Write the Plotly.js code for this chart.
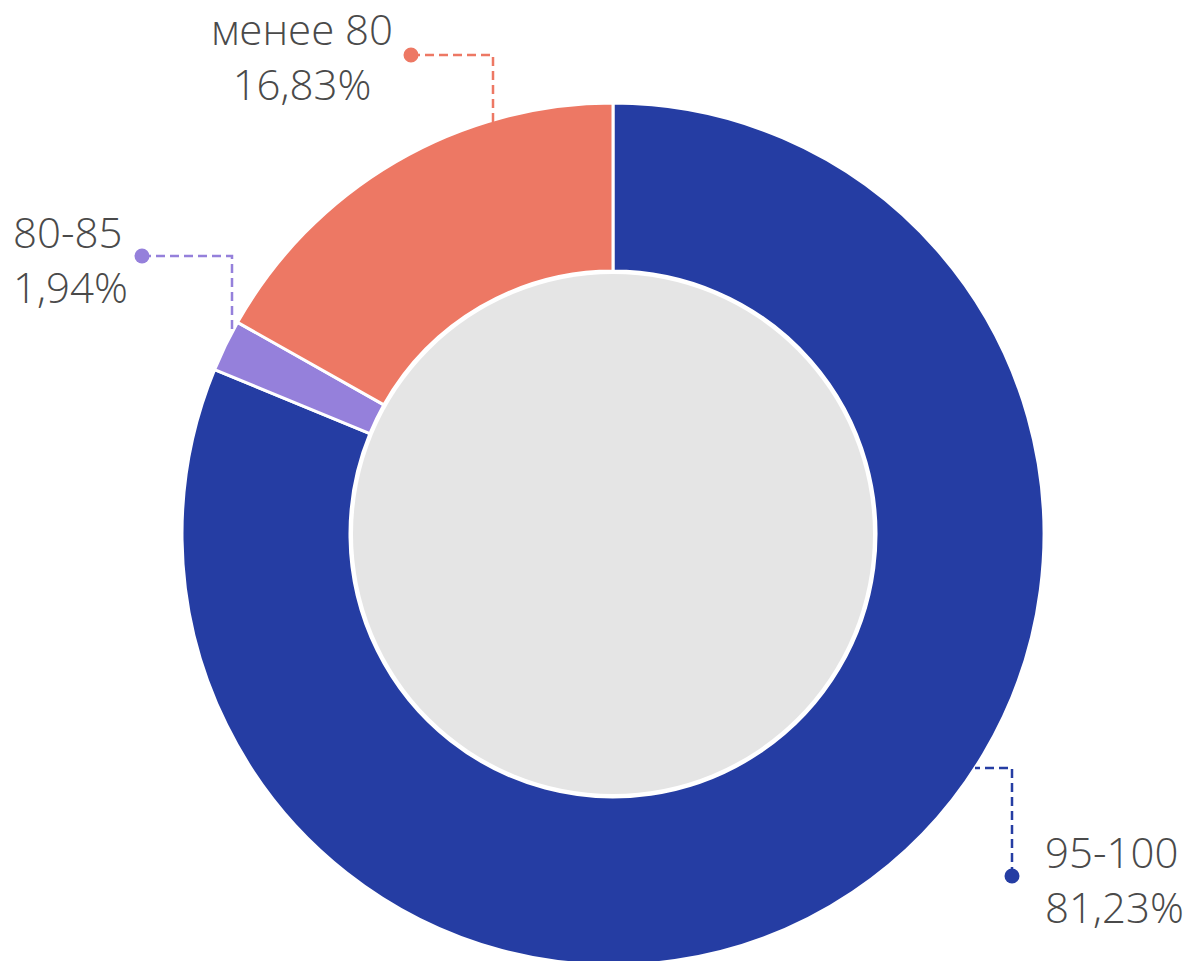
<!DOCTYPE html>
<html>
<head>
<meta charset="utf-8">
<script src="https://cdn.plot.ly/plotly-3.0.1.min.js"></script>
<style>
html,body{margin:0;padding:0;background:#fff;overflow:hidden;}
#chart{width:1186px;height:1000px;}
</style>
</head>
<body>
<div id="chart"></div>
<script>
// ---- data ----
const categories = ['95-100', '80-85', 'менее 80'];
const values = [81.23, 1.94, 16.83];
const percentLabels = ['81,23%', '1,94%', '16,83%'];
const sliceColors = ['#253da3', '#9580db', '#ed7864'];

// ---- layout helpers (pixels -> paper) ----
const W = 1186, H = 1000;
const px = x => x / W;
const py = y => 1 - y / H;

const cx = 613, cy = 534, R = 431;
const holeR = 263, innerR = 260;

// label placement (layout, not data)
const labelPos = [
  {x: 1043, y: 879, xanchor: 'left', align: 'left',
   dot: [1012, 876], path: [[1012, 876], [1012, 768], [975, 768]]},
  {x: 11, y: 259, xanchor: 'left', align: 'left',
   dot: [142, 256], path: [[142, 256], [232, 256], [232, 330]]},
  {x: 302, y: 56, xanchor: 'center', align: 'center',
   dot: [411, 55], path: [[411, 55], [493, 55], [493, 122]]}
];

const textColor = '#4a4a4a';
const fontFam = '"Open Sans", Roboto, sans-serif';

const annotations = categories.map((c, i) => ({
  xref: 'paper', yref: 'paper',
  x: px(labelPos[i].x), y: py(labelPos[i].y),
  xanchor: labelPos[i].xanchor, yanchor: 'middle',
  align: labelPos[i].align,
  showarrow: false,
  text: c + '<br>' + percentLabels[i],
  font: {family: fontFam, size: 42, color: textColor, weight: 300}
}));

const shapes = [];
// inner grey disc
shapes.push({
  type: 'circle', xref: 'paper', yref: 'paper',
  xsizemode: 'pixel', ysizemode: 'pixel',
  xanchor: px(cx), yanchor: py(cy),
  x0: -innerR, x1: innerR, y0: -innerR, y1: innerR,
  fillcolor: '#e5e5e5', line: {width: 0}, layer: 'above'
});
categories.forEach((c, i) => {
  const p = labelPos[i];
  const d = p.path.map((pt, k) => (k ? 'L' : 'M') + px(pt[0]) + ',' + py(pt[1])).join(' ');
  shapes.push({
    type: 'path', xref: 'paper', yref: 'paper', path: d,
    line: {color: sliceColors[i], width: 2.5, dash: '9px,5px'}
  });
  shapes.push({
    type: 'circle', xref: 'paper', yref: 'paper',
    xsizemode: 'pixel', ysizemode: 'pixel',
    xanchor: px(p.dot[0]), yanchor: py(p.dot[1]),
    x0: -7.5, x1: 7.5, y0: -7.5, y1: 7.5,
    fillcolor: sliceColors[i], line: {width: 0}
  });
});

const trace = {
  type: 'pie',
  labels: categories,
  values: values,
  marker: {colors: sliceColors, line: {color: '#ffffff', width: 3}},
  hole: holeR / R,
  sort: false,
  direction: 'clockwise',
  rotation: 0,
  textinfo: 'none',
  hoverinfo: 'label+percent',
  domain: {x: [px(cx - R), px(cx + R)], y: [py(cy + R), py(cy - R)]}
};

const layout = {
  width: W, height: H,
  margin: {l: 0, r: 0, t: 0, b: 0, pad: 0},
  paper_bgcolor: '#ffffff',
  showlegend: false,
  annotations: annotations,
  shapes: shapes
};

Plotly.newPlot('chart', [trace], layout, {displayModeBar: false, staticPlot: true});
</script>
</body>
</html>
